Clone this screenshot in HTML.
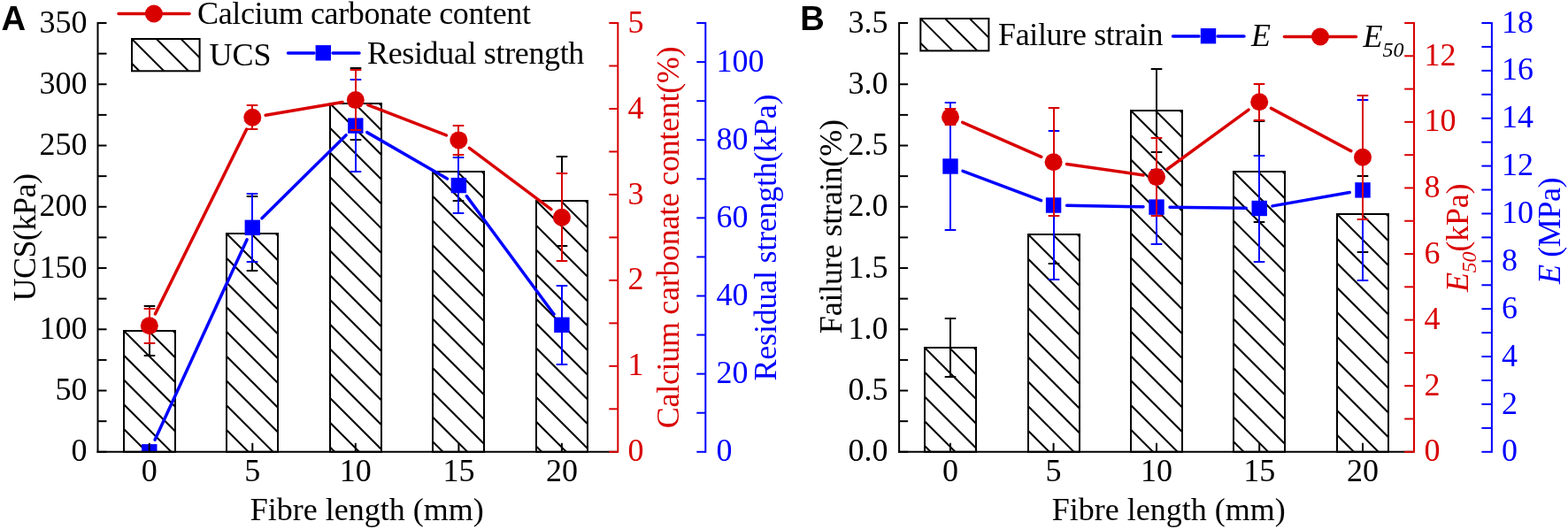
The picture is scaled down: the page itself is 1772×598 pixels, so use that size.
<!DOCTYPE html>
<html><head><meta charset="utf-8"><title>Figure</title>
<style>html,body{margin:0;padding:0;background:#fff;}svg{display:block;}</style>
</head><body>
<svg width="1772" height="598" viewBox="0 0 1772 598" font-family="'Liberation Serif', 'Times New Roman', serif"><rect width="1772" height="598" fill="#fff"/><defs><clipPath id="plotA"><rect x="110.5" y="0" width="587.8" height="510.8"/></clipPath><clipPath id="c1"><rect x="140" y="374" width="58" height="136.8"/></clipPath><clipPath id="c2"><rect x="256" y="264" width="58" height="246.8"/></clipPath><clipPath id="c3"><rect x="373" y="117" width="58" height="393.8"/></clipPath><clipPath id="c4"><rect x="489" y="194" width="58" height="316.8"/></clipPath><clipPath id="c5"><rect x="606" y="227" width="58" height="283.8"/></clipPath><clipPath id="plotB"><rect x="1016.1" y="0" width="581.9" height="510.8"/></clipPath><clipPath id="c6"><rect x="1045" y="393" width="58" height="117.8"/></clipPath><clipPath id="c7"><rect x="1162" y="265" width="58" height="245.8"/></clipPath><clipPath id="c8"><rect x="1278" y="125" width="58" height="385.8"/></clipPath><clipPath id="c9"><rect x="1394" y="194" width="58" height="316.8"/></clipPath><clipPath id="c10"><rect x="1511" y="242" width="58" height="268.8"/></clipPath><clipPath id="c12"><rect x="149" y="44" width="76.6" height="36.3"/></clipPath><clipPath id="c13"><rect x="1040.3" y="21" width="77.1" height="36.4"/></clipPath></defs><path clip-path="url(#c1)" d="M138 261L200 323M138 288.75L200 350.75M138 316.5L200 378.5M138 344.25L200 406.25M138 372L200 434M138 399.75L200 461.75M138 427.5L200 489.5M138 455.25L200 517.25M138 483L200 545M138 510.75L200 572.75M138 538.5L200 600.5" stroke="#000" stroke-width="2.0" fill="none"/>
<rect x="140" y="374" width="58" height="136.8" fill="none" stroke="#000" stroke-width="2.0"/>
<path clip-path="url(#c2)" d="M254 151L316 213M254 178.75L316 240.75M254 206.5L316 268.5M254 234.25L316 296.25M254 262L316 324M254 289.75L316 351.75M254 317.5L316 379.5M254 345.25L316 407.25M254 373L316 435M254 400.75L316 462.75M254 428.5L316 490.5M254 456.25L316 518.25M254 484L316 546M254 511.75L316 573.75M254 539.5L316 601.5" stroke="#000" stroke-width="2.0" fill="none"/>
<rect x="256" y="264" width="58" height="246.8" fill="none" stroke="#000" stroke-width="2.0"/>
<path clip-path="url(#c3)" d="M371 4L433 66M371 31.75L433 93.75M371 59.5L433 121.5M371 87.25L433 149.25M371 115L433 177M371 142.75L433 204.75M371 170.5L433 232.5M371 198.25L433 260.25M371 226L433 288M371 253.75L433 315.75M371 281.5L433 343.5M371 309.25L433 371.25M371 337L433 399M371 364.75L433 426.75M371 392.5L433 454.5M371 420.25L433 482.25M371 448L433 510M371 475.75L433 537.75M371 503.5L433 565.5M371 531.25L433 593.25M371 559L433 621" stroke="#000" stroke-width="2.0" fill="none"/>
<rect x="373" y="117" width="58" height="393.8" fill="none" stroke="#000" stroke-width="2.0"/>
<path clip-path="url(#c4)" d="M487 81L549 143M487 108.75L549 170.75M487 136.5L549 198.5M487 164.25L549 226.25M487 192L549 254M487 219.75L549 281.75M487 247.5L549 309.5M487 275.25L549 337.25M487 303L549 365M487 330.75L549 392.75M487 358.5L549 420.5M487 386.25L549 448.25M487 414L549 476M487 441.75L549 503.75M487 469.5L549 531.5M487 497.25L549 559.25M487 525L549 587M487 552.75L549 614.75" stroke="#000" stroke-width="2.0" fill="none"/>
<rect x="489" y="194" width="58" height="316.8" fill="none" stroke="#000" stroke-width="2.0"/>
<path clip-path="url(#c5)" d="M604 114L666 176M604 141.75L666 203.75M604 169.5L666 231.5M604 197.25L666 259.25M604 225L666 287M604 252.75L666 314.75M604 280.5L666 342.5M604 308.25L666 370.25M604 336L666 398M604 363.75L666 425.75M604 391.5L666 453.5M604 419.25L666 481.25M604 447L666 509M604 474.75L666 536.75M604 502.5L666 564.5M604 530.25L666 592.25M604 558L666 620" stroke="#000" stroke-width="2.0" fill="none"/>
<rect x="606" y="227" width="58" height="283.8" fill="none" stroke="#000" stroke-width="2.0"/>
<line x1="169" y1="346" x2="169" y2="402" stroke="#000" stroke-width="2.0" stroke-linecap="butt"/>
<line x1="162.7" y1="346" x2="175.3" y2="346" stroke="#000" stroke-width="2.0" stroke-linecap="butt"/>
<line x1="162.7" y1="402" x2="175.3" y2="402" stroke="#000" stroke-width="2.0" stroke-linecap="butt"/>
<line x1="285" y1="222" x2="285" y2="306" stroke="#000" stroke-width="2.0" stroke-linecap="butt"/>
<line x1="278.7" y1="222" x2="291.3" y2="222" stroke="#000" stroke-width="2.0" stroke-linecap="butt"/>
<line x1="278.7" y1="306" x2="291.3" y2="306" stroke="#000" stroke-width="2.0" stroke-linecap="butt"/>
<line x1="402" y1="77" x2="402" y2="158" stroke="#000" stroke-width="2.0" stroke-linecap="butt"/>
<line x1="395.7" y1="77" x2="408.3" y2="77" stroke="#000" stroke-width="2.0" stroke-linecap="butt"/>
<line x1="395.7" y1="158" x2="408.3" y2="158" stroke="#000" stroke-width="2.0" stroke-linecap="butt"/>
<line x1="518" y1="161" x2="518" y2="227" stroke="#000" stroke-width="2.0" stroke-linecap="butt"/>
<line x1="511.7" y1="161" x2="524.3" y2="161" stroke="#000" stroke-width="2.0" stroke-linecap="butt"/>
<line x1="511.7" y1="227" x2="524.3" y2="227" stroke="#000" stroke-width="2.0" stroke-linecap="butt"/>
<line x1="635" y1="177" x2="635" y2="278" stroke="#000" stroke-width="2.0" stroke-linecap="butt"/>
<line x1="628.7" y1="177" x2="641.3" y2="177" stroke="#000" stroke-width="2.0" stroke-linecap="butt"/>
<line x1="628.7" y1="278" x2="641.3" y2="278" stroke="#000" stroke-width="2.0" stroke-linecap="butt"/>
<line x1="175.06" y1="497.17" x2="279.04" y2="270.93" stroke="#0000ff" stroke-width="3.5" stroke-linecap="round"/>
<line x1="295.97" y1="246.75" x2="391.13" y2="152.65" stroke="#0000ff" stroke-width="3.5" stroke-linecap="round"/>
<line x1="414.78" y1="149.62" x2="505.42" y2="202.08" stroke="#0000ff" stroke-width="3.5" stroke-linecap="round"/>
<line x1="527.31" y1="221.66" x2="625.99" y2="355.24" stroke="#0000ff" stroke-width="3.5" stroke-linecap="round"/>
<line x1="285" y1="219" x2="285" y2="296" stroke="#0000ff" stroke-width="2.0" stroke-linecap="butt"/>
<line x1="278.7" y1="219" x2="291.3" y2="219" stroke="#0000ff" stroke-width="2.0" stroke-linecap="butt"/>
<line x1="278.7" y1="296" x2="291.3" y2="296" stroke="#0000ff" stroke-width="2.0" stroke-linecap="butt"/>
<line x1="402" y1="90" x2="402" y2="194" stroke="#0000ff" stroke-width="2.0" stroke-linecap="butt"/>
<line x1="395.7" y1="90" x2="408.3" y2="90" stroke="#0000ff" stroke-width="2.0" stroke-linecap="butt"/>
<line x1="395.7" y1="194" x2="408.3" y2="194" stroke="#0000ff" stroke-width="2.0" stroke-linecap="butt"/>
<line x1="518" y1="178" x2="518" y2="241" stroke="#0000ff" stroke-width="2.0" stroke-linecap="butt"/>
<line x1="511.7" y1="178" x2="524.3" y2="178" stroke="#0000ff" stroke-width="2.0" stroke-linecap="butt"/>
<line x1="511.7" y1="241" x2="524.3" y2="241" stroke="#0000ff" stroke-width="2.0" stroke-linecap="butt"/>
<line x1="635" y1="323" x2="635" y2="412" stroke="#0000ff" stroke-width="2.0" stroke-linecap="butt"/>
<line x1="628.7" y1="323" x2="641.3" y2="323" stroke="#0000ff" stroke-width="2.0" stroke-linecap="butt"/>
<line x1="628.7" y1="412" x2="641.3" y2="412" stroke="#0000ff" stroke-width="2.0" stroke-linecap="butt"/>
<rect x="160.1" y="502.1" width="17.4" height="17.4" fill="#0000ff" clip-path="url(#plotA)"/>
<rect x="276.6" y="248.6" width="17.4" height="17.4" fill="#0000ff" clip-path="url(#plotA)"/>
<rect x="393.1" y="133.4" width="17.4" height="17.4" fill="#0000ff" clip-path="url(#plotA)"/>
<rect x="509.7" y="200.9" width="17.4" height="17.4" fill="#0000ff" clip-path="url(#plotA)"/>
<rect x="626.2" y="358.6" width="17.4" height="17.4" fill="#0000ff" clip-path="url(#plotA)"/>
<line x1="175.45" y1="354.85" x2="278.65" y2="146.15" stroke="#d90000" stroke-width="3.5" stroke-linecap="round"/>
<line x1="300.09" y1="130.21" x2="387.01" y2="115.59" stroke="#d90000" stroke-width="3.5" stroke-linecap="round"/>
<line x1="415.78" y1="118.53" x2="504.42" y2="152.97" stroke="#d90000" stroke-width="3.5" stroke-linecap="round"/>
<line x1="530.4" y1="167.4" x2="622.9" y2="236.7" stroke="#d90000" stroke-width="3.5" stroke-linecap="round"/>
<line x1="169" y1="349" x2="169" y2="388" stroke="#d90000" stroke-width="2.0" stroke-linecap="butt"/>
<line x1="162.7" y1="349" x2="175.3" y2="349" stroke="#d90000" stroke-width="2.0" stroke-linecap="butt"/>
<line x1="162.7" y1="388" x2="175.3" y2="388" stroke="#d90000" stroke-width="2.0" stroke-linecap="butt"/>
<line x1="285" y1="119" x2="285" y2="146" stroke="#d90000" stroke-width="2.0" stroke-linecap="butt"/>
<line x1="278.7" y1="119" x2="291.3" y2="119" stroke="#d90000" stroke-width="2.0" stroke-linecap="butt"/>
<line x1="278.7" y1="146" x2="291.3" y2="146" stroke="#d90000" stroke-width="2.0" stroke-linecap="butt"/>
<line x1="402" y1="79" x2="402" y2="147" stroke="#d90000" stroke-width="2.0" stroke-linecap="butt"/>
<line x1="395.7" y1="79" x2="408.3" y2="79" stroke="#d90000" stroke-width="2.0" stroke-linecap="butt"/>
<line x1="395.7" y1="147" x2="408.3" y2="147" stroke="#d90000" stroke-width="2.0" stroke-linecap="butt"/>
<line x1="518" y1="142" x2="518" y2="175" stroke="#d90000" stroke-width="2.0" stroke-linecap="butt"/>
<line x1="511.7" y1="142" x2="524.3" y2="142" stroke="#d90000" stroke-width="2.0" stroke-linecap="butt"/>
<line x1="511.7" y1="175" x2="524.3" y2="175" stroke="#d90000" stroke-width="2.0" stroke-linecap="butt"/>
<line x1="635" y1="196" x2="635" y2="295" stroke="#d90000" stroke-width="2.0" stroke-linecap="butt"/>
<line x1="628.7" y1="196" x2="641.3" y2="196" stroke="#d90000" stroke-width="2.0" stroke-linecap="butt"/>
<line x1="628.7" y1="295" x2="641.3" y2="295" stroke="#d90000" stroke-width="2.0" stroke-linecap="butt"/>
<circle cx="168.8" cy="368.3" r="10" fill="#d90000"/>
<circle cx="285.3" cy="132.7" r="10" fill="#d90000"/>
<circle cx="401.8" cy="113.1" r="10" fill="#d90000"/>
<circle cx="518.4" cy="158.4" r="10" fill="#d90000"/>
<circle cx="634.9" cy="245.7" r="10" fill="#d90000"/>
<line x1="109.5" y1="510.8" x2="698.3" y2="510.8" stroke="#000" stroke-width="2.0" stroke-linecap="butt"/>
<line x1="168.8" y1="510.8" x2="168.8" y2="500.8" stroke="#000" stroke-width="2.0" stroke-linecap="butt"/>
<text x="168.8" y="544.3" fill="#000" font-size="36" text-anchor="middle">0</text>
<line x1="285.3" y1="510.8" x2="285.3" y2="500.8" stroke="#000" stroke-width="2.0" stroke-linecap="butt"/>
<text x="285.3" y="544.3" fill="#000" font-size="36" text-anchor="middle">5</text>
<line x1="401.8" y1="510.8" x2="401.8" y2="500.8" stroke="#000" stroke-width="2.0" stroke-linecap="butt"/>
<text x="401.8" y="544.3" fill="#000" font-size="36" text-anchor="middle">10</text>
<line x1="518.4" y1="510.8" x2="518.4" y2="500.8" stroke="#000" stroke-width="2.0" stroke-linecap="butt"/>
<text x="518.4" y="544.3" fill="#000" font-size="36" text-anchor="middle">15</text>
<line x1="634.9" y1="510.8" x2="634.9" y2="500.8" stroke="#000" stroke-width="2.0" stroke-linecap="butt"/>
<text x="634.9" y="544.3" fill="#000" font-size="36" text-anchor="middle">20</text>
<line x1="110.5" y1="25" x2="110.5" y2="511.8" stroke="#000" stroke-width="2.0" stroke-linecap="butt"/>
<line x1="110.5" y1="510.8" x2="120.5" y2="510.8" stroke="#000" stroke-width="2.0" stroke-linecap="butt"/>
<line x1="110.5" y1="476.17" x2="120.5" y2="476.17" stroke="#000" stroke-width="2.0" stroke-linecap="butt"/>
<line x1="110.5" y1="441.54" x2="120.5" y2="441.54" stroke="#000" stroke-width="2.0" stroke-linecap="butt"/>
<line x1="110.5" y1="406.91" x2="120.5" y2="406.91" stroke="#000" stroke-width="2.0" stroke-linecap="butt"/>
<line x1="110.5" y1="372.29" x2="120.5" y2="372.29" stroke="#000" stroke-width="2.0" stroke-linecap="butt"/>
<line x1="110.5" y1="337.66" x2="120.5" y2="337.66" stroke="#000" stroke-width="2.0" stroke-linecap="butt"/>
<line x1="110.5" y1="303.03" x2="120.5" y2="303.03" stroke="#000" stroke-width="2.0" stroke-linecap="butt"/>
<line x1="110.5" y1="268.4" x2="120.5" y2="268.4" stroke="#000" stroke-width="2.0" stroke-linecap="butt"/>
<line x1="110.5" y1="233.77" x2="120.5" y2="233.77" stroke="#000" stroke-width="2.0" stroke-linecap="butt"/>
<line x1="110.5" y1="199.14" x2="120.5" y2="199.14" stroke="#000" stroke-width="2.0" stroke-linecap="butt"/>
<line x1="110.5" y1="164.51" x2="120.5" y2="164.51" stroke="#000" stroke-width="2.0" stroke-linecap="butt"/>
<line x1="110.5" y1="129.89" x2="120.5" y2="129.89" stroke="#000" stroke-width="2.0" stroke-linecap="butt"/>
<line x1="110.5" y1="95.26" x2="120.5" y2="95.26" stroke="#000" stroke-width="2.0" stroke-linecap="butt"/>
<line x1="110.5" y1="60.63" x2="120.5" y2="60.63" stroke="#000" stroke-width="2.0" stroke-linecap="butt"/>
<line x1="110.5" y1="26" x2="120.5" y2="26" stroke="#000" stroke-width="2.0" stroke-linecap="butt"/>
<text x="98.5" y="521.4" fill="#000" font-size="36" text-anchor="end">0</text>
<text x="98.5" y="452.14" fill="#000" font-size="36" text-anchor="end">50</text>
<text x="98.5" y="382.89" fill="#000" font-size="36" text-anchor="end">100</text>
<text x="98.5" y="313.63" fill="#000" font-size="36" text-anchor="end">150</text>
<text x="98.5" y="244.37" fill="#000" font-size="36" text-anchor="end">200</text>
<text x="98.5" y="175.11" fill="#000" font-size="36" text-anchor="end">250</text>
<text x="98.5" y="105.86" fill="#000" font-size="36" text-anchor="end">300</text>
<text x="98.5" y="36.6" fill="#000" font-size="36" text-anchor="end">350</text>
<line x1="698.3" y1="25" x2="698.3" y2="511.8" stroke="#d90000" stroke-width="2.0" stroke-linecap="butt"/>
<line x1="698.3" y1="510.8" x2="688.3" y2="510.8" stroke="#d90000" stroke-width="2.0" stroke-linecap="butt"/>
<line x1="698.3" y1="462.32" x2="688.3" y2="462.32" stroke="#d90000" stroke-width="2.0" stroke-linecap="butt"/>
<line x1="698.3" y1="413.84" x2="688.3" y2="413.84" stroke="#d90000" stroke-width="2.0" stroke-linecap="butt"/>
<line x1="698.3" y1="365.36" x2="688.3" y2="365.36" stroke="#d90000" stroke-width="2.0" stroke-linecap="butt"/>
<line x1="698.3" y1="316.88" x2="688.3" y2="316.88" stroke="#d90000" stroke-width="2.0" stroke-linecap="butt"/>
<line x1="698.3" y1="268.4" x2="688.3" y2="268.4" stroke="#d90000" stroke-width="2.0" stroke-linecap="butt"/>
<line x1="698.3" y1="219.92" x2="688.3" y2="219.92" stroke="#d90000" stroke-width="2.0" stroke-linecap="butt"/>
<line x1="698.3" y1="171.44" x2="688.3" y2="171.44" stroke="#d90000" stroke-width="2.0" stroke-linecap="butt"/>
<line x1="698.3" y1="122.96" x2="688.3" y2="122.96" stroke="#d90000" stroke-width="2.0" stroke-linecap="butt"/>
<line x1="698.3" y1="74.48" x2="688.3" y2="74.48" stroke="#d90000" stroke-width="2.0" stroke-linecap="butt"/>
<line x1="698.3" y1="26" x2="688.3" y2="26" stroke="#d90000" stroke-width="2.0" stroke-linecap="butt"/>
<text x="709.5" y="521.4" fill="#d90000" font-size="36" text-anchor="start">0</text>
<text x="709.5" y="424.44" fill="#d90000" font-size="36" text-anchor="start">1</text>
<text x="709.5" y="327.48" fill="#d90000" font-size="36" text-anchor="start">2</text>
<text x="709.5" y="230.52" fill="#d90000" font-size="36" text-anchor="start">3</text>
<text x="709.5" y="133.56" fill="#d90000" font-size="36" text-anchor="start">4</text>
<text x="709.5" y="36.6" fill="#d90000" font-size="36" text-anchor="start">5</text>
<line x1="797.3" y1="25" x2="797.3" y2="511.8" stroke="#0000ff" stroke-width="2.0" stroke-linecap="butt"/>
<line x1="797.3" y1="510.8" x2="787.3" y2="510.8" stroke="#0000ff" stroke-width="2.0" stroke-linecap="butt"/>
<line x1="797.3" y1="466.73" x2="787.3" y2="466.73" stroke="#0000ff" stroke-width="2.0" stroke-linecap="butt"/>
<line x1="797.3" y1="422.65" x2="787.3" y2="422.65" stroke="#0000ff" stroke-width="2.0" stroke-linecap="butt"/>
<line x1="797.3" y1="378.58" x2="787.3" y2="378.58" stroke="#0000ff" stroke-width="2.0" stroke-linecap="butt"/>
<line x1="797.3" y1="334.51" x2="787.3" y2="334.51" stroke="#0000ff" stroke-width="2.0" stroke-linecap="butt"/>
<line x1="797.3" y1="290.44" x2="787.3" y2="290.44" stroke="#0000ff" stroke-width="2.0" stroke-linecap="butt"/>
<line x1="797.3" y1="246.36" x2="787.3" y2="246.36" stroke="#0000ff" stroke-width="2.0" stroke-linecap="butt"/>
<line x1="797.3" y1="202.29" x2="787.3" y2="202.29" stroke="#0000ff" stroke-width="2.0" stroke-linecap="butt"/>
<line x1="797.3" y1="158.22" x2="787.3" y2="158.22" stroke="#0000ff" stroke-width="2.0" stroke-linecap="butt"/>
<line x1="797.3" y1="114.15" x2="787.3" y2="114.15" stroke="#0000ff" stroke-width="2.0" stroke-linecap="butt"/>
<line x1="797.3" y1="70.07" x2="787.3" y2="70.07" stroke="#0000ff" stroke-width="2.0" stroke-linecap="butt"/>
<line x1="797.3" y1="26" x2="787.3" y2="26" stroke="#0000ff" stroke-width="2.0" stroke-linecap="butt"/>
<text x="809.5" y="521.4" fill="#0000ff" font-size="36" text-anchor="start">0</text>
<text x="809.5" y="433.25" fill="#0000ff" font-size="36" text-anchor="start">20</text>
<text x="809.5" y="345.11" fill="#0000ff" font-size="36" text-anchor="start">40</text>
<text x="809.5" y="256.96" fill="#0000ff" font-size="36" text-anchor="start">60</text>
<text x="809.5" y="168.82" fill="#0000ff" font-size="36" text-anchor="start">80</text>
<text x="809.5" y="80.67" fill="#0000ff" font-size="36" text-anchor="start">100</text>
<path clip-path="url(#c6)" d="M1043 280L1105 342M1043 307.75L1105 369.75M1043 335.5L1105 397.5M1043 363.25L1105 425.25M1043 391L1105 453M1043 418.75L1105 480.75M1043 446.5L1105 508.5M1043 474.25L1105 536.25M1043 502L1105 564M1043 529.75L1105 591.75M1043 557.5L1105 619.5" stroke="#000" stroke-width="2.0" fill="none"/>
<rect x="1045" y="393" width="58" height="117.8" fill="none" stroke="#000" stroke-width="2.0"/>
<path clip-path="url(#c7)" d="M1160 152L1222 214M1160 179.75L1222 241.75M1160 207.5L1222 269.5M1160 235.25L1222 297.25M1160 263L1222 325M1160 290.75L1222 352.75M1160 318.5L1222 380.5M1160 346.25L1222 408.25M1160 374L1222 436M1160 401.75L1222 463.75M1160 429.5L1222 491.5M1160 457.25L1222 519.25M1160 485L1222 547M1160 512.75L1222 574.75M1160 540.5L1222 602.5" stroke="#000" stroke-width="2.0" fill="none"/>
<rect x="1162" y="265" width="58" height="245.8" fill="none" stroke="#000" stroke-width="2.0"/>
<path clip-path="url(#c8)" d="M1276 12L1338 74M1276 39.75L1338 101.75M1276 67.5L1338 129.5M1276 95.25L1338 157.25M1276 123L1338 185M1276 150.75L1338 212.75M1276 178.5L1338 240.5M1276 206.25L1338 268.25M1276 234L1338 296M1276 261.75L1338 323.75M1276 289.5L1338 351.5M1276 317.25L1338 379.25M1276 345L1338 407M1276 372.75L1338 434.75M1276 400.5L1338 462.5M1276 428.25L1338 490.25M1276 456L1338 518M1276 483.75L1338 545.75M1276 511.5L1338 573.5M1276 539.25L1338 601.25" stroke="#000" stroke-width="2.0" fill="none"/>
<rect x="1278" y="125" width="58" height="385.8" fill="none" stroke="#000" stroke-width="2.0"/>
<path clip-path="url(#c9)" d="M1392 81L1454 143M1392 108.75L1454 170.75M1392 136.5L1454 198.5M1392 164.25L1454 226.25M1392 192L1454 254M1392 219.75L1454 281.75M1392 247.5L1454 309.5M1392 275.25L1454 337.25M1392 303L1454 365M1392 330.75L1454 392.75M1392 358.5L1454 420.5M1392 386.25L1454 448.25M1392 414L1454 476M1392 441.75L1454 503.75M1392 469.5L1454 531.5M1392 497.25L1454 559.25M1392 525L1454 587M1392 552.75L1454 614.75" stroke="#000" stroke-width="2.0" fill="none"/>
<rect x="1394" y="194" width="58" height="316.8" fill="none" stroke="#000" stroke-width="2.0"/>
<path clip-path="url(#c10)" d="M1509 129L1571 191M1509 156.75L1571 218.75M1509 184.5L1571 246.5M1509 212.25L1571 274.25M1509 240L1571 302M1509 267.75L1571 329.75M1509 295.5L1571 357.5M1509 323.25L1571 385.25M1509 351L1571 413M1509 378.75L1571 440.75M1509 406.5L1571 468.5M1509 434.25L1571 496.25M1509 462L1571 524M1509 489.75L1571 551.75M1509 517.5L1571 579.5M1509 545.25L1571 607.25" stroke="#000" stroke-width="2.0" fill="none"/>
<rect x="1511" y="242" width="58" height="268.8" fill="none" stroke="#000" stroke-width="2.0"/>
<line x1="1074" y1="360" x2="1074" y2="426" stroke="#000" stroke-width="2.0" stroke-linecap="butt"/>
<line x1="1067.7" y1="360" x2="1080.3" y2="360" stroke="#000" stroke-width="2.0" stroke-linecap="butt"/>
<line x1="1067.7" y1="426" x2="1080.3" y2="426" stroke="#000" stroke-width="2.0" stroke-linecap="butt"/>
<line x1="1191" y1="232" x2="1191" y2="298" stroke="#000" stroke-width="2.0" stroke-linecap="butt"/>
<line x1="1184.7" y1="232" x2="1197.3" y2="232" stroke="#000" stroke-width="2.0" stroke-linecap="butt"/>
<line x1="1184.7" y1="298" x2="1197.3" y2="298" stroke="#000" stroke-width="2.0" stroke-linecap="butt"/>
<line x1="1307" y1="78" x2="1307" y2="172" stroke="#000" stroke-width="2.0" stroke-linecap="butt"/>
<line x1="1300.7" y1="78" x2="1313.3" y2="78" stroke="#000" stroke-width="2.0" stroke-linecap="butt"/>
<line x1="1300.7" y1="172" x2="1313.3" y2="172" stroke="#000" stroke-width="2.0" stroke-linecap="butt"/>
<line x1="1423" y1="137" x2="1423" y2="251" stroke="#000" stroke-width="2.0" stroke-linecap="butt"/>
<line x1="1416.7" y1="137" x2="1429.3" y2="137" stroke="#000" stroke-width="2.0" stroke-linecap="butt"/>
<line x1="1416.7" y1="251" x2="1429.3" y2="251" stroke="#000" stroke-width="2.0" stroke-linecap="butt"/>
<line x1="1540" y1="199" x2="1540" y2="285" stroke="#000" stroke-width="2.0" stroke-linecap="butt"/>
<line x1="1533.7" y1="199" x2="1546.3" y2="199" stroke="#000" stroke-width="2.0" stroke-linecap="butt"/>
<line x1="1533.7" y1="285" x2="1546.3" y2="285" stroke="#000" stroke-width="2.0" stroke-linecap="butt"/>
<line x1="1088.03" y1="193.3" x2="1176.57" y2="226.7" stroke="#0000ff" stroke-width="3.5" stroke-linecap="round"/>
<line x1="1205.6" y1="232.27" x2="1292" y2="233.83" stroke="#0000ff" stroke-width="3.5" stroke-linecap="round"/>
<line x1="1322" y1="234.28" x2="1408.2" y2="235.32" stroke="#0000ff" stroke-width="3.5" stroke-linecap="round"/>
<line x1="1437.97" y1="232.89" x2="1525.23" y2="217.51" stroke="#0000ff" stroke-width="3.5" stroke-linecap="round"/>
<line x1="1074" y1="116" x2="1074" y2="260" stroke="#0000ff" stroke-width="2.0" stroke-linecap="butt"/>
<line x1="1067.7" y1="116" x2="1080.3" y2="116" stroke="#0000ff" stroke-width="2.0" stroke-linecap="butt"/>
<line x1="1067.7" y1="260" x2="1080.3" y2="260" stroke="#0000ff" stroke-width="2.0" stroke-linecap="butt"/>
<line x1="1191" y1="148" x2="1191" y2="316" stroke="#0000ff" stroke-width="2.0" stroke-linecap="butt"/>
<line x1="1184.7" y1="148" x2="1197.3" y2="148" stroke="#0000ff" stroke-width="2.0" stroke-linecap="butt"/>
<line x1="1184.7" y1="316" x2="1197.3" y2="316" stroke="#0000ff" stroke-width="2.0" stroke-linecap="butt"/>
<line x1="1307" y1="192" x2="1307" y2="276" stroke="#0000ff" stroke-width="2.0" stroke-linecap="butt"/>
<line x1="1300.7" y1="192" x2="1313.3" y2="192" stroke="#0000ff" stroke-width="2.0" stroke-linecap="butt"/>
<line x1="1300.7" y1="276" x2="1313.3" y2="276" stroke="#0000ff" stroke-width="2.0" stroke-linecap="butt"/>
<line x1="1423" y1="176" x2="1423" y2="296" stroke="#0000ff" stroke-width="2.0" stroke-linecap="butt"/>
<line x1="1416.7" y1="176" x2="1429.3" y2="176" stroke="#0000ff" stroke-width="2.0" stroke-linecap="butt"/>
<line x1="1416.7" y1="296" x2="1429.3" y2="296" stroke="#0000ff" stroke-width="2.0" stroke-linecap="butt"/>
<line x1="1540" y1="113" x2="1540" y2="317" stroke="#0000ff" stroke-width="2.0" stroke-linecap="butt"/>
<line x1="1533.7" y1="113" x2="1546.3" y2="113" stroke="#0000ff" stroke-width="2.0" stroke-linecap="butt"/>
<line x1="1533.7" y1="317" x2="1546.3" y2="317" stroke="#0000ff" stroke-width="2.0" stroke-linecap="butt"/>
<rect x="1065.3" y="179.3" width="17.4" height="17.4" fill="#0000ff" clip-path="url(#plotB)"/>
<rect x="1181.9" y="223.3" width="17.4" height="17.4" fill="#0000ff" clip-path="url(#plotB)"/>
<rect x="1298.3" y="225.4" width="17.4" height="17.4" fill="#0000ff" clip-path="url(#plotB)"/>
<rect x="1414.5" y="226.8" width="17.4" height="17.4" fill="#0000ff" clip-path="url(#plotB)"/>
<rect x="1531.3" y="206.2" width="17.4" height="17.4" fill="#0000ff" clip-path="url(#plotB)"/>
<line x1="1087.74" y1="138.31" x2="1176.86" y2="177.29" stroke="#d90000" stroke-width="3.5" stroke-linecap="round"/>
<line x1="1205.45" y1="185.44" x2="1292.15" y2="197.96" stroke="#d90000" stroke-width="3.5" stroke-linecap="round"/>
<line x1="1319.12" y1="191.26" x2="1411.08" y2="124.14" stroke="#d90000" stroke-width="3.5" stroke-linecap="round"/>
<line x1="1436.43" y1="122.37" x2="1526.77" y2="170.63" stroke="#d90000" stroke-width="3.5" stroke-linecap="round"/>
<line x1="1074" y1="123" x2="1074" y2="141" stroke="#d90000" stroke-width="2.0" stroke-linecap="butt"/>
<line x1="1067.7" y1="123" x2="1080.3" y2="123" stroke="#d90000" stroke-width="2.0" stroke-linecap="butt"/>
<line x1="1067.7" y1="141" x2="1080.3" y2="141" stroke="#d90000" stroke-width="2.0" stroke-linecap="butt"/>
<line x1="1191" y1="122" x2="1191" y2="244" stroke="#d90000" stroke-width="2.0" stroke-linecap="butt"/>
<line x1="1184.7" y1="122" x2="1197.3" y2="122" stroke="#d90000" stroke-width="2.0" stroke-linecap="butt"/>
<line x1="1184.7" y1="244" x2="1197.3" y2="244" stroke="#d90000" stroke-width="2.0" stroke-linecap="butt"/>
<line x1="1307" y1="156" x2="1307" y2="244" stroke="#d90000" stroke-width="2.0" stroke-linecap="butt"/>
<line x1="1300.7" y1="156" x2="1313.3" y2="156" stroke="#d90000" stroke-width="2.0" stroke-linecap="butt"/>
<line x1="1300.7" y1="244" x2="1313.3" y2="244" stroke="#d90000" stroke-width="2.0" stroke-linecap="butt"/>
<line x1="1423" y1="95" x2="1423" y2="136" stroke="#d90000" stroke-width="2.0" stroke-linecap="butt"/>
<line x1="1416.7" y1="95" x2="1429.3" y2="95" stroke="#d90000" stroke-width="2.0" stroke-linecap="butt"/>
<line x1="1416.7" y1="136" x2="1429.3" y2="136" stroke="#d90000" stroke-width="2.0" stroke-linecap="butt"/>
<line x1="1540" y1="108" x2="1540" y2="248" stroke="#d90000" stroke-width="2.0" stroke-linecap="butt"/>
<line x1="1533.7" y1="108" x2="1546.3" y2="108" stroke="#d90000" stroke-width="2.0" stroke-linecap="butt"/>
<line x1="1533.7" y1="248" x2="1546.3" y2="248" stroke="#d90000" stroke-width="2.0" stroke-linecap="butt"/>
<circle cx="1074" cy="132.3" r="10" fill="#d90000"/>
<circle cx="1190.6" cy="183.3" r="10" fill="#d90000"/>
<circle cx="1307" cy="200.1" r="10" fill="#d90000"/>
<circle cx="1423.2" cy="115.3" r="10" fill="#d90000"/>
<circle cx="1540" cy="177.7" r="10" fill="#d90000"/>
<line x1="1015.1" y1="510.8" x2="1598" y2="510.8" stroke="#000" stroke-width="2.0" stroke-linecap="butt"/>
<line x1="1074" y1="510.8" x2="1074" y2="500.8" stroke="#000" stroke-width="2.0" stroke-linecap="butt"/>
<text x="1074" y="544.3" fill="#000" font-size="36" text-anchor="middle">0</text>
<line x1="1190.6" y1="510.8" x2="1190.6" y2="500.8" stroke="#000" stroke-width="2.0" stroke-linecap="butt"/>
<text x="1190.6" y="544.3" fill="#000" font-size="36" text-anchor="middle">5</text>
<line x1="1307" y1="510.8" x2="1307" y2="500.8" stroke="#000" stroke-width="2.0" stroke-linecap="butt"/>
<text x="1307" y="544.3" fill="#000" font-size="36" text-anchor="middle">10</text>
<line x1="1423.2" y1="510.8" x2="1423.2" y2="500.8" stroke="#000" stroke-width="2.0" stroke-linecap="butt"/>
<text x="1423.2" y="544.3" fill="#000" font-size="36" text-anchor="middle">15</text>
<line x1="1540" y1="510.8" x2="1540" y2="500.8" stroke="#000" stroke-width="2.0" stroke-linecap="butt"/>
<text x="1540" y="544.3" fill="#000" font-size="36" text-anchor="middle">20</text>
<line x1="1016.1" y1="25" x2="1016.1" y2="511.8" stroke="#000" stroke-width="2.0" stroke-linecap="butt"/>
<line x1="1016.1" y1="510.8" x2="1026.1" y2="510.8" stroke="#000" stroke-width="2.0" stroke-linecap="butt"/>
<line x1="1016.1" y1="476.17" x2="1026.1" y2="476.17" stroke="#000" stroke-width="2.0" stroke-linecap="butt"/>
<line x1="1016.1" y1="441.54" x2="1026.1" y2="441.54" stroke="#000" stroke-width="2.0" stroke-linecap="butt"/>
<line x1="1016.1" y1="406.91" x2="1026.1" y2="406.91" stroke="#000" stroke-width="2.0" stroke-linecap="butt"/>
<line x1="1016.1" y1="372.29" x2="1026.1" y2="372.29" stroke="#000" stroke-width="2.0" stroke-linecap="butt"/>
<line x1="1016.1" y1="337.66" x2="1026.1" y2="337.66" stroke="#000" stroke-width="2.0" stroke-linecap="butt"/>
<line x1="1016.1" y1="303.03" x2="1026.1" y2="303.03" stroke="#000" stroke-width="2.0" stroke-linecap="butt"/>
<line x1="1016.1" y1="268.4" x2="1026.1" y2="268.4" stroke="#000" stroke-width="2.0" stroke-linecap="butt"/>
<line x1="1016.1" y1="233.77" x2="1026.1" y2="233.77" stroke="#000" stroke-width="2.0" stroke-linecap="butt"/>
<line x1="1016.1" y1="199.14" x2="1026.1" y2="199.14" stroke="#000" stroke-width="2.0" stroke-linecap="butt"/>
<line x1="1016.1" y1="164.51" x2="1026.1" y2="164.51" stroke="#000" stroke-width="2.0" stroke-linecap="butt"/>
<line x1="1016.1" y1="129.89" x2="1026.1" y2="129.89" stroke="#000" stroke-width="2.0" stroke-linecap="butt"/>
<line x1="1016.1" y1="95.26" x2="1026.1" y2="95.26" stroke="#000" stroke-width="2.0" stroke-linecap="butt"/>
<line x1="1016.1" y1="60.63" x2="1026.1" y2="60.63" stroke="#000" stroke-width="2.0" stroke-linecap="butt"/>
<line x1="1016.1" y1="26" x2="1026.1" y2="26" stroke="#000" stroke-width="2.0" stroke-linecap="butt"/>
<text x="1003.6" y="521.4" fill="#000" font-size="36" text-anchor="end">0.0</text>
<text x="1003.6" y="452.14" fill="#000" font-size="36" text-anchor="end">0.5</text>
<text x="1003.6" y="382.89" fill="#000" font-size="36" text-anchor="end">1.0</text>
<text x="1003.6" y="313.63" fill="#000" font-size="36" text-anchor="end">1.5</text>
<text x="1003.6" y="244.37" fill="#000" font-size="36" text-anchor="end">2.0</text>
<text x="1003.6" y="175.11" fill="#000" font-size="36" text-anchor="end">2.5</text>
<text x="1003.6" y="105.86" fill="#000" font-size="36" text-anchor="end">3.0</text>
<text x="1003.6" y="36.6" fill="#000" font-size="36" text-anchor="end">3.5</text>
<line x1="1598" y1="25" x2="1598" y2="511.8" stroke="#d90000" stroke-width="2.0" stroke-linecap="butt"/>
<line x1="1598" y1="510.8" x2="1587.2" y2="510.8" stroke="#d90000" stroke-width="2.0" stroke-linecap="butt"/>
<line x1="1598" y1="473.51" x2="1587.2" y2="473.51" stroke="#d90000" stroke-width="2.0" stroke-linecap="butt"/>
<line x1="1598" y1="436.22" x2="1587.2" y2="436.22" stroke="#d90000" stroke-width="2.0" stroke-linecap="butt"/>
<line x1="1598" y1="398.92" x2="1587.2" y2="398.92" stroke="#d90000" stroke-width="2.0" stroke-linecap="butt"/>
<line x1="1598" y1="361.63" x2="1587.2" y2="361.63" stroke="#d90000" stroke-width="2.0" stroke-linecap="butt"/>
<line x1="1598" y1="324.34" x2="1587.2" y2="324.34" stroke="#d90000" stroke-width="2.0" stroke-linecap="butt"/>
<line x1="1598" y1="287.05" x2="1587.2" y2="287.05" stroke="#d90000" stroke-width="2.0" stroke-linecap="butt"/>
<line x1="1598" y1="249.75" x2="1587.2" y2="249.75" stroke="#d90000" stroke-width="2.0" stroke-linecap="butt"/>
<line x1="1598" y1="212.46" x2="1587.2" y2="212.46" stroke="#d90000" stroke-width="2.0" stroke-linecap="butt"/>
<line x1="1598" y1="175.17" x2="1587.2" y2="175.17" stroke="#d90000" stroke-width="2.0" stroke-linecap="butt"/>
<line x1="1598" y1="137.88" x2="1587.2" y2="137.88" stroke="#d90000" stroke-width="2.0" stroke-linecap="butt"/>
<line x1="1598" y1="100.58" x2="1587.2" y2="100.58" stroke="#d90000" stroke-width="2.0" stroke-linecap="butt"/>
<line x1="1598" y1="63.29" x2="1587.2" y2="63.29" stroke="#d90000" stroke-width="2.0" stroke-linecap="butt"/>
<line x1="1598" y1="26" x2="1587.2" y2="26" stroke="#d90000" stroke-width="2.0" stroke-linecap="butt"/>
<text x="1609.5" y="521.4" fill="#d90000" font-size="36" text-anchor="start">0</text>
<text x="1609.5" y="446.82" fill="#d90000" font-size="36" text-anchor="start">2</text>
<text x="1609.5" y="372.23" fill="#d90000" font-size="36" text-anchor="start">4</text>
<text x="1609.5" y="297.65" fill="#d90000" font-size="36" text-anchor="start">6</text>
<text x="1609.5" y="223.06" fill="#d90000" font-size="36" text-anchor="start">8</text>
<text x="1609.5" y="148.48" fill="#d90000" font-size="36" text-anchor="start">10</text>
<text x="1609.5" y="73.89" fill="#d90000" font-size="36" text-anchor="start">12</text>
<line x1="1685.9" y1="25" x2="1685.9" y2="511.8" stroke="#0000ff" stroke-width="2.0" stroke-linecap="butt"/>
<line x1="1685.9" y1="510.8" x2="1674.4" y2="510.8" stroke="#0000ff" stroke-width="2.0" stroke-linecap="butt"/>
<line x1="1685.9" y1="483.87" x2="1674.4" y2="483.87" stroke="#0000ff" stroke-width="2.0" stroke-linecap="butt"/>
<line x1="1685.9" y1="456.93" x2="1674.4" y2="456.93" stroke="#0000ff" stroke-width="2.0" stroke-linecap="butt"/>
<line x1="1685.9" y1="430" x2="1674.4" y2="430" stroke="#0000ff" stroke-width="2.0" stroke-linecap="butt"/>
<line x1="1685.9" y1="403.07" x2="1674.4" y2="403.07" stroke="#0000ff" stroke-width="2.0" stroke-linecap="butt"/>
<line x1="1685.9" y1="376.13" x2="1674.4" y2="376.13" stroke="#0000ff" stroke-width="2.0" stroke-linecap="butt"/>
<line x1="1685.9" y1="349.2" x2="1674.4" y2="349.2" stroke="#0000ff" stroke-width="2.0" stroke-linecap="butt"/>
<line x1="1685.9" y1="322.27" x2="1674.4" y2="322.27" stroke="#0000ff" stroke-width="2.0" stroke-linecap="butt"/>
<line x1="1685.9" y1="295.33" x2="1674.4" y2="295.33" stroke="#0000ff" stroke-width="2.0" stroke-linecap="butt"/>
<line x1="1685.9" y1="268.4" x2="1674.4" y2="268.4" stroke="#0000ff" stroke-width="2.0" stroke-linecap="butt"/>
<line x1="1685.9" y1="241.47" x2="1674.4" y2="241.47" stroke="#0000ff" stroke-width="2.0" stroke-linecap="butt"/>
<line x1="1685.9" y1="214.53" x2="1674.4" y2="214.53" stroke="#0000ff" stroke-width="2.0" stroke-linecap="butt"/>
<line x1="1685.9" y1="187.6" x2="1674.4" y2="187.6" stroke="#0000ff" stroke-width="2.0" stroke-linecap="butt"/>
<line x1="1685.9" y1="160.67" x2="1674.4" y2="160.67" stroke="#0000ff" stroke-width="2.0" stroke-linecap="butt"/>
<line x1="1685.9" y1="133.73" x2="1674.4" y2="133.73" stroke="#0000ff" stroke-width="2.0" stroke-linecap="butt"/>
<line x1="1685.9" y1="106.8" x2="1674.4" y2="106.8" stroke="#0000ff" stroke-width="2.0" stroke-linecap="butt"/>
<line x1="1685.9" y1="79.87" x2="1674.4" y2="79.87" stroke="#0000ff" stroke-width="2.0" stroke-linecap="butt"/>
<line x1="1685.9" y1="52.93" x2="1674.4" y2="52.93" stroke="#0000ff" stroke-width="2.0" stroke-linecap="butt"/>
<line x1="1685.9" y1="26" x2="1674.4" y2="26" stroke="#0000ff" stroke-width="2.0" stroke-linecap="butt"/>
<text x="1697" y="521.4" fill="#0000ff" font-size="36" text-anchor="start">0</text>
<text x="1697" y="467.53" fill="#0000ff" font-size="36" text-anchor="start">2</text>
<text x="1697" y="413.67" fill="#0000ff" font-size="36" text-anchor="start">4</text>
<text x="1697" y="359.8" fill="#0000ff" font-size="36" text-anchor="start">6</text>
<text x="1697" y="305.93" fill="#0000ff" font-size="36" text-anchor="start">8</text>
<text x="1697" y="252.07" fill="#0000ff" font-size="36" text-anchor="start">10</text>
<text x="1697" y="198.2" fill="#0000ff" font-size="36" text-anchor="start">12</text>
<text x="1697" y="144.33" fill="#0000ff" font-size="36" text-anchor="start">14</text>
<text x="1697" y="90.47" fill="#0000ff" font-size="36" text-anchor="start">16</text>
<text x="1697" y="36.6" fill="#0000ff" font-size="36" text-anchor="start">18</text>
<text x="282.7" y="587.8" fill="#000" font-size="36" text-anchor="start">Fibre length (mm)</text>
<text x="1188.8" y="587.8" fill="#000" font-size="36" text-anchor="start">Fibre length (mm)</text>
<text transform="translate(39.8,340.5) rotate(-90)" fill="#000" font-size="36" letter-spacing="-0.5">UCS(kPa)</text>
<text transform="translate(767,484.2) rotate(-90)" fill="#d90000" font-size="36" letter-spacing="-0.3">Calcium carbonate content(%)</text>
<text transform="translate(877,430.4) rotate(-90)" fill="#0000ff" font-size="36" letter-spacing="-0.24">Residual strength(kPa)</text>
<text transform="translate(950.5,377.2) rotate(-90)" fill="#000" font-size="36" letter-spacing="-0.17">Failure strain(%)</text>
<text transform="translate(1659,330) rotate(-90)" fill="#d90000" font-size="36" letter-spacing="-0.2"><tspan font-style="italic">E</tspan><tspan font-style="italic" font-size="24" dy="9">50</tspan><tspan dy="-9">(kPa)</tspan></text>
<text transform="translate(1763,321) rotate(-90)" fill="#0000ff" font-size="36" letter-spacing="-0.4"><tspan font-style="italic">E</tspan> (MPa)</text>
<text x="1.6" y="33.5" font-family="'Liberation Sans', Arial, sans-serif" font-weight="bold" font-size="38.2" fill="#000">A</text>
<text x="904.2" y="33.5" font-family="'Liberation Sans', Arial, sans-serif" font-weight="bold" font-size="38.2" fill="#000">B</text>
<line x1="134" y1="15.5" x2="214" y2="15.5" stroke="#d90000" stroke-width="3.5" stroke-linecap="round"/>
<circle cx="173.9" cy="15.5" r="10" fill="#d90000"/>
<text x="223" y="27" fill="#000" font-size="36" text-anchor="start" letter-spacing="-0.37">Calcium carbonate content</text>
<path clip-path="url(#c12)" d="M147 -69L227.6 11.6M147 -41.25L227.6 39.35M147 -13.5L227.6 67.1M147 14.25L227.6 94.85M147 42L227.6 122.6M147 69.75L227.6 150.35M147 97.5L227.6 178.1M147 125.25L227.6 205.85" stroke="#000" stroke-width="2.0" fill="none"/>
<rect x="149" y="44" width="76.6" height="36.3" fill="none" stroke="#000" stroke-width="2.0"/>
<text x="236.5" y="74" fill="#000" font-size="36" text-anchor="start">UCS</text>
<line x1="325.5" y1="59.9" x2="355" y2="59.9" stroke="#0000ff" stroke-width="3.5" stroke-linecap="round"/>
<line x1="376" y1="59.9" x2="406" y2="59.9" stroke="#0000ff" stroke-width="3.5" stroke-linecap="round"/>
<rect x="356.6" y="51.1" width="17.4" height="17.4" fill="#0000ff"/>
<text x="415" y="72.1" fill="#000" font-size="36" text-anchor="start" letter-spacing="-0.35">Residual strength</text>
<path clip-path="url(#c13)" d="M1038.3 -92L1119.4 -10.9M1038.3 -64.25L1119.4 16.85M1038.3 -36.5L1119.4 44.6M1038.3 -8.75L1119.4 72.35M1038.3 19L1119.4 100.1M1038.3 46.75L1119.4 127.85M1038.3 74.5L1119.4 155.6M1038.3 102.25L1119.4 183.35" stroke="#000" stroke-width="2.0" fill="none"/>
<rect x="1040.3" y="21" width="77.1" height="36.4" fill="none" stroke="#000" stroke-width="2.0"/>
<text x="1128" y="50.6" fill="#000" font-size="36" text-anchor="start" letter-spacing="-0.35">Failure strain</text>
<line x1="1325.5" y1="41" x2="1355" y2="41" stroke="#0000ff" stroke-width="3.5" stroke-linecap="round"/>
<line x1="1376" y1="41" x2="1406" y2="41" stroke="#0000ff" stroke-width="3.5" stroke-linecap="round"/>
<rect x="1356.8" y="32" width="17.4" height="17.4" fill="#0000ff"/>
<text x="1414" y="52.2" fill="#000" font-size="36" text-anchor="start" font-style="italic">E</text>
<line x1="1451.5" y1="41.5" x2="1532.5" y2="41.5" stroke="#d90000" stroke-width="3.5" stroke-linecap="round"/>
<circle cx="1492" cy="41.5" r="10" fill="#d90000"/>
<text x="1540.6" y="53.3" fill="#000" font-size="36" text-anchor="start"><tspan font-style="italic">E</tspan><tspan font-style="italic" font-size="24" dy="10.8">50</tspan></text></svg>
</body></html>
